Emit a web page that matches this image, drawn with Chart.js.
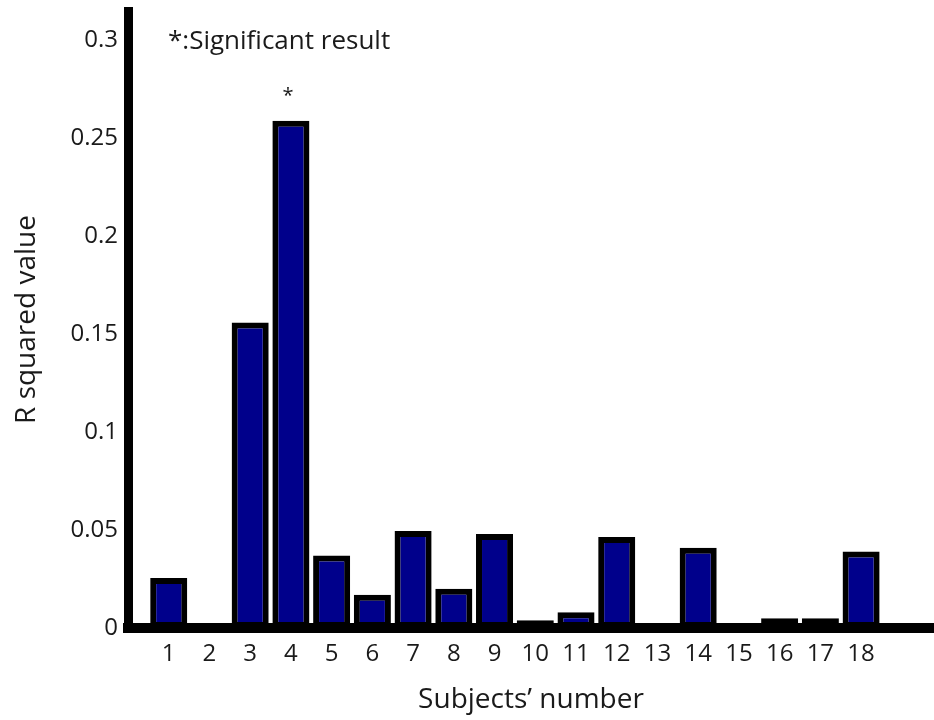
<!DOCTYPE html>
<html>
<head>
<meta charset="utf-8">
<script src="https://cdn.jsdelivr.net/npm/chart.js@4/dist/chart.umd.min.js"></script>
<style>
  html, body { margin: 0; padding: 0; background: #fff; }
  #wrap { width: 934px; height: 720px; position: relative; }
</style>
</head>
<body>
<div id="wrap"><canvas id="chart"></canvas></div>
<script>
// subjects and their R squared values
const subjects = [1, 2, 3, 4, 5, 6, 7, 8, 9, 10, 11, 12, 13, 14, 15, 16, 17, 18];
const rSquared = [0.0255, 0, 0.156, 0.259, 0.037, 0.017, 0.0495, 0.020, 0.048,
                  0.004, 0.008, 0.0465, 0, 0.041, 0, 0.005, 0.005, 0.039];
const significant = [4];
const yTicks = [0, 0.05, 0.1, 0.15, 0.2, 0.25, 0.3];

const FONT = "'Open Sans', 'Noto Sans', sans-serif";
const TEXT = '#1a1a1a';

// legend note and stars over significant bars
const notes = {
    id: 'notes',
    afterDatasetsDraw(chart) {
        const ctx = chart.ctx;
        const x = chart.scales.x, y = chart.scales.y;
        ctx.save();
        ctx.fillStyle = TEXT;
        ctx.font = '26px ' + FONT;
        ctx.textBaseline = 'middle';
        ctx.textAlign = 'left';
        ctx.fillText('*:Significant result', chart.chartArea.left + 40, 42);

        ctx.textAlign = 'center';
        ctx.font = '20px ' + FONT;
        significant.forEach(s => {
            const v = rSquared[subjects.indexOf(s)];
            ctx.fillText('*', x.getPixelForValue(s) - 3, y.getPixelForValue(v) - 24);
        });
        ctx.restore();
    }
};

new Chart(document.getElementById('chart'), {
    type: 'bar',
    data: {
        datasets: [{
            data: subjects.map((s, i) => ({ x: s, y: rSquared[i] })),
            backgroundColor: '#00008b',
            borderColor: '#000',
            borderWidth: 6,
            borderSkipped: false,
            categoryPercentage: 1,
            barPercentage: 0.91
        }]
    },
    options: {
        responsive: true,
        maintainAspectRatio: false,
        animation: false,
        layout: { padding: { top: 11, right: 0, left: 0, bottom: 0 } },
        plugins: { legend: { display: false }, tooltip: { enabled: false } },
        scales: {
            x: {
                type: 'linear',
                offset: false,
                min: 0,
                max: 19.79,
                grid: { display: false, drawTicks: false },
                border: { display: true, color: '#000', width: 10, z: 1 },
                afterBuildTicks: s => { s.ticks = subjects.map(v => ({ value: v })); },
                afterFit: s => { s.height = 92; s.paddingLeft = 0; s.paddingRight = 0; },
                ticks: {
                    autoSkip: false,
                    maxRotation: 0,
                    padding: 12,
                    color: TEXT,
                    font: { family: FONT, size: 24 },
                    callback: v => String(v)
                },
                title: {
                    display: true,
                    text: 'Subjects’ number',
                    color: TEXT,
                    font: { family: FONT, size: 28 },
                    padding: { top: 0, bottom: 3 }
                }
            },
            y: {
                min: 0,
                max: 0.315,
                grid: { display: false, drawTicks: false },
                border: { display: true, color: '#000', width: 9, z: 1 },
                afterBuildTicks: s => { s.ticks = yTicks.map(v => ({ value: v })); },
                afterFit: s => { s.width = 128; s.paddingTop = 0; s.paddingBottom = 0; },
                ticks: {
                    padding: 10,
                    color: TEXT,
                    font: { family: FONT, size: 24 },
                    callback: v => String(+v.toFixed(2))
                },
                title: {
                    display: true,
                    text: 'R squared value',
                    color: TEXT,
                    font: { family: FONT, size: 28 },
                    padding: { top: 10, bottom: 0 }
                }
            }
        }
    },
    plugins: [notes]
});
</script>
</body>
</html>
